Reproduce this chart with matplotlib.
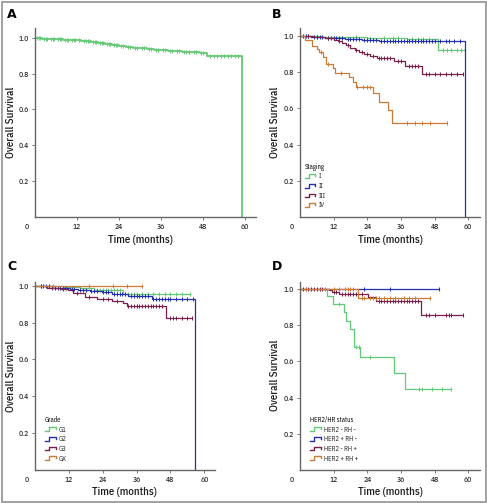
import numpy as np
import matplotlib
matplotlib.use("Agg")
import matplotlib.pyplot as plt
from matplotlib.lines import Line2D
from matplotlib.legend_handler import HandlerBase
from matplotlib.patches import Rectangle

plt.rcParams['font.family'] = ['IBM Plex Sans Condensed', 'DejaVu Sans']

GREEN, BLUE, MAROON, ORANGE = "#62c974", "#2330b0", "#7a1f4e", "#cf7a33"

# ---- panel A: all patients
a_t = [0, 2, 4, 6, 8, 10, 12, 13, 16, 18, 20, 22, 24, 26, 28, 30, 32, 34, 36, 38, 40, 42, 45, 47, 49, 59]
a_s = [1.0, 0.997, 0.995, 0.993, 0.991, 0.989, 0.987, 0.982, 0.975, 0.970, 0.965, 0.960, 0.955, 0.950, 0.946, 0.942, 0.938, 0.934, 0.931, 0.928, 0.926, 0.924, 0.920, 0.918, 0.900, 0.0]
a_end = 59
a_cens = [0.5, 1, 1.5, 2.5, 3, 3.5, 4.5, 5, 5.5, 6.5, 7, 7.5, 8.5, 9, 9.5, 10.5, 11, 11.5, 12.5, 14, 14.5,
          15, 15.5, 16.5, 17, 17.5, 18.5, 19, 19.5, 20.5, 21, 21.5, 22.5, 23, 23.5, 24.5, 25, 26.5, 27,
          28.5, 29, 30.5, 31, 32.5, 33, 34.5, 35, 36.5, 37, 38.5, 39, 40.5, 41, 42.5, 43, 44, 45.5, 46,
          47.5, 48, 50, 51, 52, 53, 54, 55, 56, 57, 58]

# ---- panel B: staging
b_labels = ["I", "II", "III", "IV"]
b_t = [[0, 8, 16, 24, 32, 38, 49.3],
       [0, 4, 9, 16, 22, 28, 59],
       [0, 5, 9, 12, 13.5, 15, 16.5, 18, 19.5, 21, 23, 25, 27.5, 33.5, 37.5, 43.5],
       [0, 1.8, 4.2, 6.0, 6.9, 8.3, 9.3, 11.9, 12.5, 17.3, 19.0, 20.0, 26.2, 28.0, 31.5, 32.7]]
b_s = [[1.0, 0.997, 0.994, 0.99, 0.987, 0.983, 0.921],
       [1.0, 0.995, 0.99, 0.985, 0.98, 0.973, 0.0],
       [1.0, 0.994, 0.988, 0.98, 0.97, 0.96, 0.948, 0.936, 0.922, 0.91, 0.9, 0.89, 0.877, 0.862, 0.836, 0.79],
       [1.0, 0.978, 0.946, 0.928, 0.91, 0.882, 0.843, 0.821, 0.797, 0.775, 0.748, 0.72, 0.683, 0.637, 0.591, 0.518]]
b_end = [58.8, 59, 58.3, 52.4]
b_cens = [[20, 25, 30, 33, 35, 40, 42, 44, 46, 51, 52.5, 54, 56, 57.5, 58.8],
          [1, 2, 3, 5, 6, 7, 8, 10, 11, 12, 13, 14, 15, 17, 18, 19, 20, 21, 23, 24, 25, 26, 27, 29, 30, 31,
           32, 33, 34, 35, 36, 37, 38, 39, 40, 41, 42, 43, 44, 45, 46, 47, 48, 50, 52, 53, 55, 57],
          [3, 6, 10, 14, 17, 20, 22, 24, 26, 28, 29, 30, 31, 32, 35, 36, 39, 40, 41, 42, 45, 46, 48, 50,
           52, 54, 56, 58.3],
          [7.5, 10, 14.5, 20.5, 22.5, 24, 25, 38, 41, 43.5, 46.5, 52.4]]

# ---- panel C: grade
c_labels = ["G1", "G2", "G3", "GX"]
c_t = [[0, 10, 16, 21, 31.3],
       [0, 6.5, 12.4, 15.3, 19.5, 23.6, 27.2, 33, 41.3, 56.7],
       [0, 4.1, 8.9, 11.8, 13.6, 17.7, 21.8, 27.2, 31.3, 32.5, 46.6],
       [0]]
c_s = [[1.0, 0.995, 0.99, 0.978, 0.957],
       [1.0, 0.99, 0.984, 0.978, 0.972, 0.964, 0.955, 0.944, 0.927, 0.0],
       [1.0, 0.99, 0.984, 0.975, 0.958, 0.941, 0.929, 0.918, 0.906, 0.891, 0.826],
       [1.0]]
c_end = [55, 56.7, 55.6, 37.8]
c_cens = [[22, 23, 24, 25, 26, 27, 28, 29, 30, 32, 33, 34, 35, 36, 38, 40, 42, 44, 46, 48, 50, 52, 55],
          [2, 3, 4, 5, 7, 8, 9, 10, 11, 13, 14, 16, 17, 18, 20, 21, 22, 24, 25, 26, 28, 29, 30, 31, 32,
           34, 35, 36, 37, 38, 39, 40, 42, 43, 44, 45, 46, 47, 48, 50, 52, 54, 56],
          [2, 6, 10, 15, 19, 24, 26, 29, 33, 34, 35, 36, 37, 38, 39, 40, 41, 42, 43, 44, 45, 48, 49, 50,
           52, 54, 55.6],
          [6.5, 19.2, 27.5, 32.7, 37.8]]

# ---- panel D: HER2/HR status
d_labels = ["HER2 - RH -", "HER2 + RH -", "HER2 - RH +", "HER2 + RH +"]
d_t = [[0, 9.5, 11.6, 15.8, 16.4, 17.9, 19.1, 21.4, 33.6, 37.4],
       [0],
       [0, 10.5, 11.4, 14, 24.1, 27.1, 43.1],
       [0, 20.8]]
d_s = [[1.0, 0.96, 0.917, 0.876, 0.825, 0.779, 0.679, 0.624, 0.535, 0.446],
       [1.0],
       [1.0, 0.993, 0.983, 0.972, 0.954, 0.932, 0.858],
       [1.0, 0.95]]
d_end = [53.8, 49.6, 58, 46.3]
d_cens = [[14, 20, 21, 25, 42.5, 43.5, 47, 50.5, 53.8],
          [22.9, 32, 49.6],
          [1, 2, 3, 4, 5, 6, 7, 8, 12, 13, 15, 16, 17, 18, 19, 20, 22, 28, 29, 30, 31, 32, 33, 34, 35,
           36, 37, 38, 39, 40, 41, 42, 45, 46, 48, 52, 53, 54, 58],
          [2, 9, 12, 14, 16, 17, 18, 19, 22, 23, 25, 26, 27, 28, 30, 32, 34, 37, 39, 41, 46.3]]

COLORS = [GREEN, BLUE, MAROON, ORANGE]
XTICKS = [12, 24, 36, 48, 60]
YTICKS = [0.2, 0.4, 0.6, 0.8, 1.0]


class StepHandler(HandlerBase):
    # little step glyph like the original legend keys
    def create_artists(self, legend, orig, xd, yd, w, h, fontsize, trans):
        xs = np.array([0, 0.4, 0.4, 1.0, 1.0]) * w - xd
        ys = np.array([0.1, 0.1, 0.9, 0.9, 0.45]) * h - yd
        ln = Line2D(xs, ys, color=orig.get_color(), lw=1.0)
        ln.set_transform(trans)
        return [ln]


def km(ax, t, s, end, cens, color, lw=0.9, label=None):
    x = list(t) + [end]
    y = list(s) + [s[-1]]
    line, = ax.step(x, y, where="post", color=color, lw=lw, label=label)
    idx = np.searchsorted(t, cens, side="right") - 1
    ax.plot(cens, np.array(s)[idx], ls="none", marker="|", ms=3, mew=0.7, color=color)
    return line


def style(ax, xmax, ymax, xlab_x, xlab_y, ylab_x):
    ax.set_xlim(0, xmax)
    ax.set_ylim(0, ymax)
    for sp in ["top", "right"]:
        ax.spines[sp].set_visible(False)
    for sp in ["left", "bottom"]:
        ax.spines[sp].set_color("#666666")
        ax.spines[sp].set_linewidth(1.0)
    ax.set_xticks(XTICKS)
    ax.set_yticks(YTICKS)
    ax.set_yticklabels([f"{v:.1f}" for v in YTICKS])
    ax.tick_params(length=2, width=0.6, color="#666666", labelsize=5.5,
                   labelcolor="#2a2a2a", pad=2.5)
    for lb in ax.get_xticklabels() + ax.get_yticklabels():
        lb.set_fontweight("medium")
    ax.annotate("0", xy=(0, 0), xycoords="axes fraction", xytext=(-6, -4.5),
                textcoords="offset points", ha="center", va="top", fontsize=5.5,
                color="#2a2a2a", fontweight="medium")
    ax.set_xlabel("Time (months)", fontsize=7.8, color="#1a1a1a", fontweight="medium")
    ax.xaxis.set_label_coords(xlab_x, xlab_y)
    ax.set_ylabel("Overall Survival", fontsize=7.8, color="#1a1a1a", fontweight="medium")
    ax.yaxis.set_label_coords(ylab_x, 0.5)


def legend(ax, handles, title, x):
    lg = ax.legend(handles=handles, title=title, loc="lower left", bbox_to_anchor=(x, 0.015),
                   frameon=False, fontsize=4.8, title_fontsize=4.8, handlelength=1.6,
                   handleheight=0.75, handletextpad=0.5, labelspacing=0.25, borderpad=0.2,
                   alignment="left", handler_map={Line2D: StepHandler()})
    for txt in lg.get_texts():
        txt.set_color("#222222")


fig = plt.figure(figsize=(4.87, 5.03), dpi=100)
W, H = 487.0, 503.0

def add_axes(l, r, b, t):
    return fig.add_axes([l / W, 1 - b / H, (r - l) / W, (b - t) / H])

# A
axA = add_axes(35, 256, 216.5, 28)
km(axA, a_t, a_s, a_end, a_cens, GREEN, lw=1.3)
style(axA, 63.1, 1.056, 30 / 63.1, -0.098, -0.086)

# B
axB = add_axes(300, 480, 217, 28)
hs = []
for i in range(4):
    hs.append(km(axB, b_t[i], b_s[i], b_end[i], b_cens[i], COLORS[i], label=b_labels[i]))
style(axB, 64.2, 1.044, 0.5, -0.095, -0.111)
legend(axB, hs, "Staging", 0.0)

# C
axC = add_axes(35, 215, 470, 282)
hs = []
for i in range(4):
    hs.append(km(axC, c_t[i], c_s[i], c_end[i], c_cens[i], COLORS[i], label=c_labels[i]))
style(axC, 63.8, 1.02, 0.5, -0.089, -0.106)
legend(axC, hs, "Grade", 0.03)

# D
axD = add_axes(300, 480, 470, 281.5)
hs = []
for i in range(4):
    hs.append(km(axD, d_t[i], d_s[i], d_end[i], d_cens[i], COLORS[i], label=d_labels[i]))
style(axD, 64.2, 1.042, 0.5, -0.089, -0.111)
legend(axD, hs, "HER2/HR status", 0.03)

for lab, x, y in [("A", 12, 14), ("B", 277, 14), ("C", 12, 266), ("D", 277, 266)]:
    fig.text(x / W, 1 - y / H, lab, fontsize=9, fontweight="bold", ha="center", va="center",
             family="DejaVu Sans")

fig.patches.append(Rectangle((1.5 / W, 1.5 / H), 484 / W, 500 / H, transform=fig.transFigure,
                             fill=False, edgecolor="#9a9a9a", lw=1.3))

fig.savefig("out.png", dpi=100)
